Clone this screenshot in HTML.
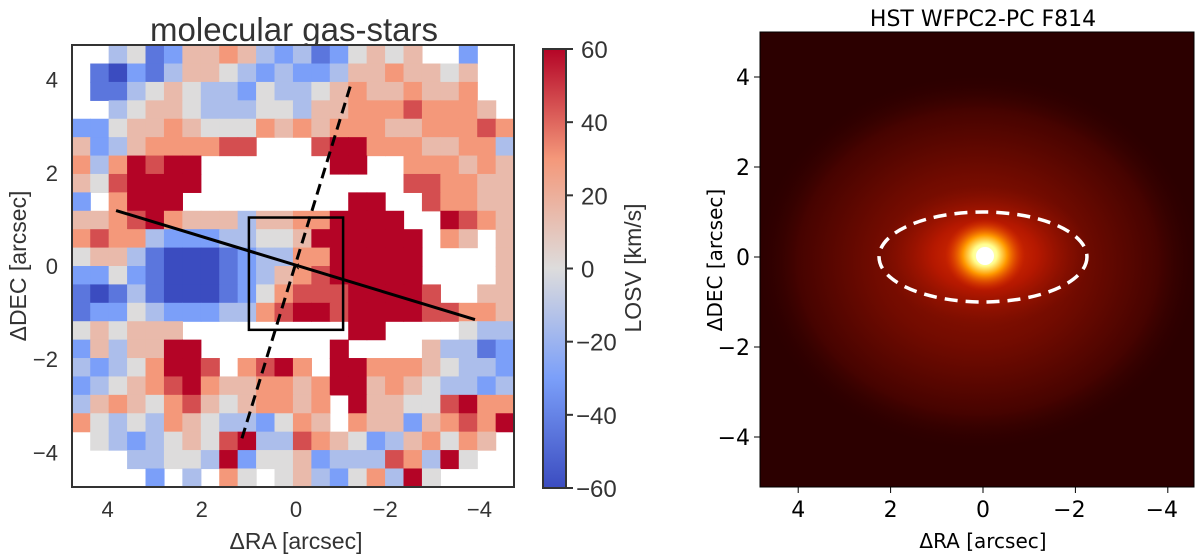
<!DOCTYPE html>
<html><head><meta charset="utf-8"><style>
html,body{margin:0;padding:0;background:#fff;}
svg{display:block;font-family:"Liberation Sans",Arial,sans-serif;}
</style></head><body>
<svg id="fig" width="1200" height="559" viewBox="0 0 1200 559">
<defs>
 <linearGradient id="cbar" x1="0" y1="1" x2="0" y2="0">
  <stop offset="0" stop-color="#3b4cc0"/><stop offset="0.25" stop-color="#7b9ff9"/>
  <stop offset="0.5" stop-color="#dddcdc"/><stop offset="0.75" stop-color="#f4987a"/>
  <stop offset="1" stop-color="#b40426"/>
 </linearGradient>
 <radialGradient id="glow" cx="0.5" cy="0.5" r="0.5">
  <stop offset="0" stop-color="#9a1500"/><stop offset="0.45" stop-color="#720b00"/>
  <stop offset="0.8" stop-color="#460300"/><stop offset="1" stop-color="#2c0000" stop-opacity="0"/>
 </radialGradient>
 <radialGradient id="mid" cx="0.5" cy="0.5" r="0.5">
  <stop offset="0" stop-color="#e83800"/><stop offset="0.5" stop-color="#b51800"/>
  <stop offset="1" stop-color="#8a0f00" stop-opacity="0"/>
 </radialGradient>
 <radialGradient id="core" cx="0.5" cy="0.5" r="0.5">
  <stop offset="0" stop-color="#ffffff"/><stop offset="0.3" stop-color="#ffff90"/>
  <stop offset="0.55" stop-color="#ff9a00"/><stop offset="1" stop-color="#e03000" stop-opacity="0"/>
 </radialGradient>
 <clipPath id="rclip"><rect x="760" y="32" width="434" height="455"/></clipPath>
 <clipPath id="lclip"><rect x="72" y="45" width="442" height="442"/></clipPath>
</defs>

<text x="294" y="41" font-size="33" fill="#333" text-anchor="middle">molecular gas-stars</text>
<g id="heat" clip-path="url(#lclip)"></g>
<g id="overlay"></g>
<rect x="72" y="45" width="442" height="442" fill="none" stroke="#333" stroke-width="2"/>
<g id="leftaxes"></g>
<text x="296" y="549" font-size="23" fill="#333" text-anchor="middle">ΔRA [arcsec]</text>
<text font-size="23" fill="#333" text-anchor="middle" transform="translate(26,266) rotate(-90)">ΔDEC [arcsec]</text>

<rect x="543" y="49" width="23" height="439" fill="url(#cbar)" stroke="#333" stroke-width="2"/>
<g id="cbaxis"></g>
<text font-size="23" fill="#333" text-anchor="middle" transform="translate(641,268) rotate(-90)">LOSV [km/s]</text>

<text x="983" y="26" font-size="22" fill="#000" text-anchor="middle" font-family="DejaVu Sans, sans-serif">HST WFPC2-PC F814</text>
<g clip-path="url(#rclip)">
 <rect x="760" y="32" width="434" height="455" fill="#2c0000"/>
 <ellipse cx="978" cy="262" rx="225" ry="190" fill="url(#glow)"/>
 <ellipse cx="985" cy="255" rx="105" ry="70" fill="url(#mid)"/>
 <ellipse cx="985" cy="255" rx="40" ry="36" fill="url(#core)"/>
 <circle cx="985" cy="256" r="9" fill="#fff"/>
</g>
<g id="rightover"></g>
<rect x="760" y="32" width="434" height="455" fill="none" stroke="#000" stroke-width="1"/>
<g id="rightaxes"></g>
<text x="983" y="548" font-size="20" fill="#000" text-anchor="middle" font-family="DejaVu Sans, sans-serif">ΔRA [arcsec]</text>
<text font-size="20" fill="#000" text-anchor="middle" font-family="DejaVu Sans, sans-serif" transform="translate(722,260) rotate(-90)">ΔDEC [arcsec]</text>
</svg>
<script>
// velocity map rows (top to bottom); '.' = no data, digit d -> (d-4)*15 km/s
const mapRows = [
"..34125565323124545..2..",
".102135543232235565545..",
".113454332433456556556..",
"..345543334435566676665.",
"224556544465656665566676",
"5235666677...78866655663",
"6368788.......88..666565",
"5478888...........776655",
"2.6888.........88..76655",
"556786555355668888..8765",
"6766322233445888888.65.5",
"4553100012336688888....5",
"2242100012356788888....5",
"10131000124677788887..55",
"122432223367887888877665",
"454555.........88....433",
"2535588.......8....53312",
"32346887.6786.8866654332",
"234567865566568856543323",
"35654675456656.855447866",
"64343654332465.655256768",
".4323454783376542356465.",
"...3344382445233376384..",
"....2.3.64.453246384...."
];
const mapExtentRA = [4.76, -4.63];
const mapExtentDEC = [4.74, -4.74];
const vmin = -60, vmax = 60;
const cbTicks = [60, 40, 20, 0, -20, -40, -60];
const leftXTicks = [4, 2, 0, -2, -4];
const leftYTicks = [4, 2, 0, -2, -4];
const rightXTicks = [4, 2, 0, -2, -4];
const rightYTicks = [4, 2, 0, -2, -4];
const slitSolid = [[3.82, 1.19], [-3.8, -1.15]];
const slitDashed = [[-1.15, 3.85], [1.17, -3.77]];
const boxCorners = [[1.0, 1.04], [-1.0, -1.37]];
const ellipseAxes = [2.25, 1.0];

const NS = 'http://www.w3.org/2000/svg';
function mk(tag, attrs, parent){const e=document.createElementNS(NS,tag);for(const k in attrs)e.setAttribute(k,attrs[k]);parent.appendChild(e);return e;}
const lx = ra => 296 - 47.1*ra, ly = dec => 266 - 46.6*dec;
const rx = ra => 983 - 46.2*ra, ry = dec => 257 - 45.0*dec;
const cy = v => 488 - (v - vmin)/(vmax - vmin)*439;
function cmap(v){
  const stops=[[-60,[59,76,192]],[-30,[123,159,249]],[0,[221,220,220]],[30,[244,152,122]],[60,[180,4,38]]];
  v=Math.max(vmin,Math.min(vmax,v));
  for(let i=0;i<stops.length-1;i++){const a=stops[i],b=stops[i+1];
    if(v<=b[0]){const t=(v-a[0])/(b[0]-a[0]);return 'rgb('+a[1].map((c,j)=>Math.round(c+(b[1][j]-c)*t)).join(',')+')';}}
  return 'rgb(180,4,38)';
}
const heat=document.getElementById('heat');
const nR=mapRows.length, nC=24;
const dRA=(mapExtentRA[1]-mapExtentRA[0])/nC, dDEC=(mapExtentDEC[1]-mapExtentDEC[0])/nR;
mapRows.forEach((row,r)=>{
  for(let c=0;c<nC;c++){
    const chv=row[c]; if(!chv||chv==='.') continue;
    const val=(parseInt(chv,10)-4)*15;
    const x0=lx(mapExtentRA[0]+c*dRA), x1=lx(mapExtentRA[0]+(c+1)*dRA);
    const y0=ly(mapExtentDEC[0]+r*dDEC), y1=ly(mapExtentDEC[0]+(r+1)*dDEC);
    const el=mk('rect',{x:x0.toFixed(2),y:y0.toFixed(2),width:(x1-x0+0.6).toFixed(2),height:(y1-y0+0.6).toFixed(2),fill:cmap(val)},heat);
    
    
  }
});
const ov=document.getElementById('overlay');
let e=mk('line',{x1:lx(slitSolid[0][0]),y1:ly(slitSolid[0][1]),x2:lx(slitSolid[1][0]),y2:ly(slitSolid[1][1]),stroke:'#000','stroke-width':3},ov);


e=mk('line',{x1:lx(slitDashed[0][0]),y1:ly(slitDashed[0][1]),x2:lx(slitDashed[1][0]),y2:ly(slitDashed[1][1]),stroke:'#000','stroke-width':3,'stroke-dasharray':'11,6'},ov);


e=mk('rect',{x:lx(boxCorners[0][0]),y:ly(boxCorners[0][1]),width:lx(boxCorners[1][0])-lx(boxCorners[0][0]),height:ly(boxCorners[1][1])-ly(boxCorners[0][1]),fill:'none',stroke:'#000','stroke-width':2.5},ov);


e=mk('text',{x:lx(0),y:ly(0)+5,'font-size':14,'text-anchor':'middle',fill:'#000'},ov);e.textContent='×';



const la=document.getElementById('leftaxes');
leftXTicks.forEach(t=>{e=mk('text',{x:lx(t)-(t<0?5:0),y:517,'font-size':22,fill:'#333','text-anchor':'middle'},la);e.textContent=t<0?'−'+(-t):t;
  
  });
leftYTicks.forEach(t=>{e=mk('text',{x:58,y:ly(t)+8,'font-size':22,fill:'#333','text-anchor':'end'},la);e.textContent=t<0?'−'+(-t):t;
  
  });
const cba=document.getElementById('cbaxis');
cbTicks.forEach(t=>{mk('line',{x1:566,x2:573,y1:cy(t),y2:cy(t),stroke:'#333','stroke-width':2},cba);
  e=mk('text',{x:t<0?576:581,y:cy(t)+9,'font-size':24,fill:'#333'},cba);e.textContent=t<0?'−'+(-t):t;
  
  });

const ro=document.getElementById('rightover');
e=mk('ellipse',{cx:rx(0),cy:ry(0),rx:ellipseAxes[0]*46.2,ry:ellipseAxes[1]*45,fill:'none',stroke:'#fff','stroke-width':3.5,'stroke-dasharray':'13,8'},ro);


const ra_=document.getElementById('rightaxes');
rightXTicks.forEach(t=>{mk('line',{x1:rx(t),x2:rx(t),y1:487,y2:493,stroke:'#000'},ra_);
  e=mk('text',{x:rx(t)-(t<0?6:0),y:517,'font-size':22,fill:'#000','text-anchor':'middle','font-family':'DejaVu Sans, sans-serif'},ra_);e.textContent=t<0?'−'+(-t):t;
  
  });
rightYTicks.forEach(t=>{mk('line',{x1:754,x2:760,y1:ry(t),y2:ry(t),stroke:'#000'},ra_);
  e=mk('text',{x:750,y:ry(t)+8,'font-size':22,fill:'#000','text-anchor':'end','font-family':'DejaVu Sans, sans-serif'},ra_);e.textContent=t<0?'−'+(-t):t;
  
  });
</script>
</body></html>
